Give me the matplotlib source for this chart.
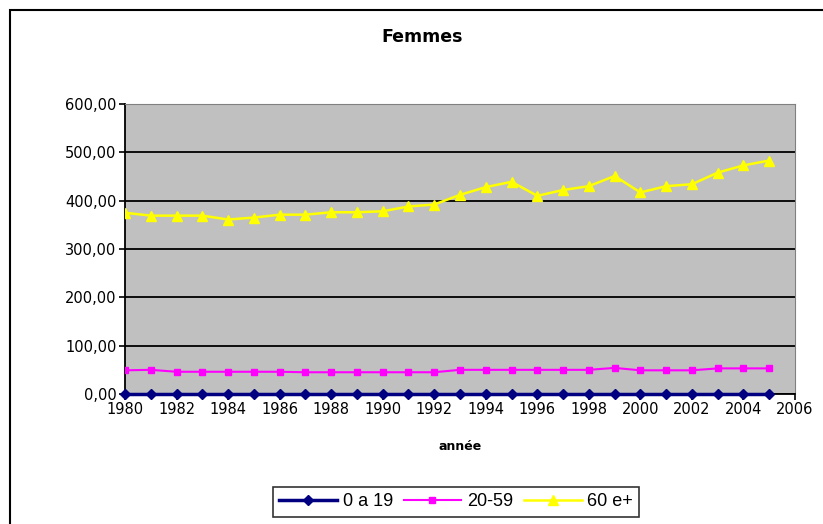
import matplotlib
matplotlib.use("Agg")
import matplotlib.pyplot as plt
from matplotlib.patches import Rectangle
from matplotlib.ticker import FuncFormatter

# ── data ────────────────────────────────────────────────────
years = list(range(1980, 2006))
age_0_19 = [1.0] * 26
age_20_59 = [49, 50, 46, 46, 46, 46, 46, 45, 45, 45, 45, 45, 45,
             50, 50, 50, 50, 50, 50, 54, 49, 49, 49, 53, 53, 53]
age_60 = [375, 369, 369, 369, 361, 365, 371, 371, 376, 376, 378, 388, 392,
          412, 428, 439, 410, 422, 430, 451, 417, 430, 434, 458, 473, 483]

# ── figure ──────────────────────────────────────────────────
W, H = 823, 524
fig = plt.figure(figsize=(W / 100, H / 100), dpi=100)
fig.patch.set_facecolor("white")

# outer chart border (cropped at right/bottom)
fig.add_artist(Rectangle((10 / W, -0.05), 1.1, 1 - 10 / H + 0.05,
                         transform=fig.transFigure, fill=False,
                         edgecolor="black", linewidth=1.5))

ax = fig.add_axes([125 / W, 1 - 394 / H, (795 - 125) / W, (394 - 104) / H])
ax.set_facecolor("#c0c0c0")

ax.plot(years, age_0_19, color="#000080", lw=2.5, marker="D", ms=5.5,
        label="0 a 19", zorder=5, clip_on=False)
ax.plot(years, age_20_59, color="#ff00ff", lw=1.5, marker="s", ms=5,
        label="20-59", zorder=4)
ax.plot(years, age_60, color="#ffff00", lw=1.8, marker="^", ms=7,
        label="60 e+", zorder=4)

ax.set_xlim(1980, 2006)
ax.set_ylim(0, 600)
ax.set_xticks(range(1980, 2007, 2))
ax.set_yticks(range(0, 601, 100))
ax.yaxis.set_major_formatter(FuncFormatter(lambda v, p: f"{v:.2f}".replace(".", ",")))
ax.grid(axis="y", color="black", lw=1.3)
ax.set_axisbelow(True)

for s in ("top", "right"):
    ax.spines[s].set_color("#808080")
for s in ("left", "bottom"):
    ax.spines[s].set_color("black")
    ax.spines[s].set_linewidth(1.3)
ax.tick_params(axis="both", direction="out", length=4, width=1.2,
               labelsize=10.5, pad=2)

ax.set_xlabel("année", fontsize=9, fontweight="bold", labelpad=16)
fig.text(422 / W, 1 - 37 / H, "Femmes", ha="center", va="center",
         fontsize=12.5, fontweight="bold")

leg = fig.legend(loc="center", bbox_to_anchor=(456 / W, 1 - 502 / H),
                 ncol=3, frameon=True, fancybox=False, edgecolor="black",
                 prop={"family": "Liberation Sans", "size": 13},
                 handlelength=3.2, columnspacing=0.6,
                 handletextpad=0.3, borderpad=0.35)
leg.get_frame().set_linewidth(1.2)

fig.savefig("out.png", dpi=100)
